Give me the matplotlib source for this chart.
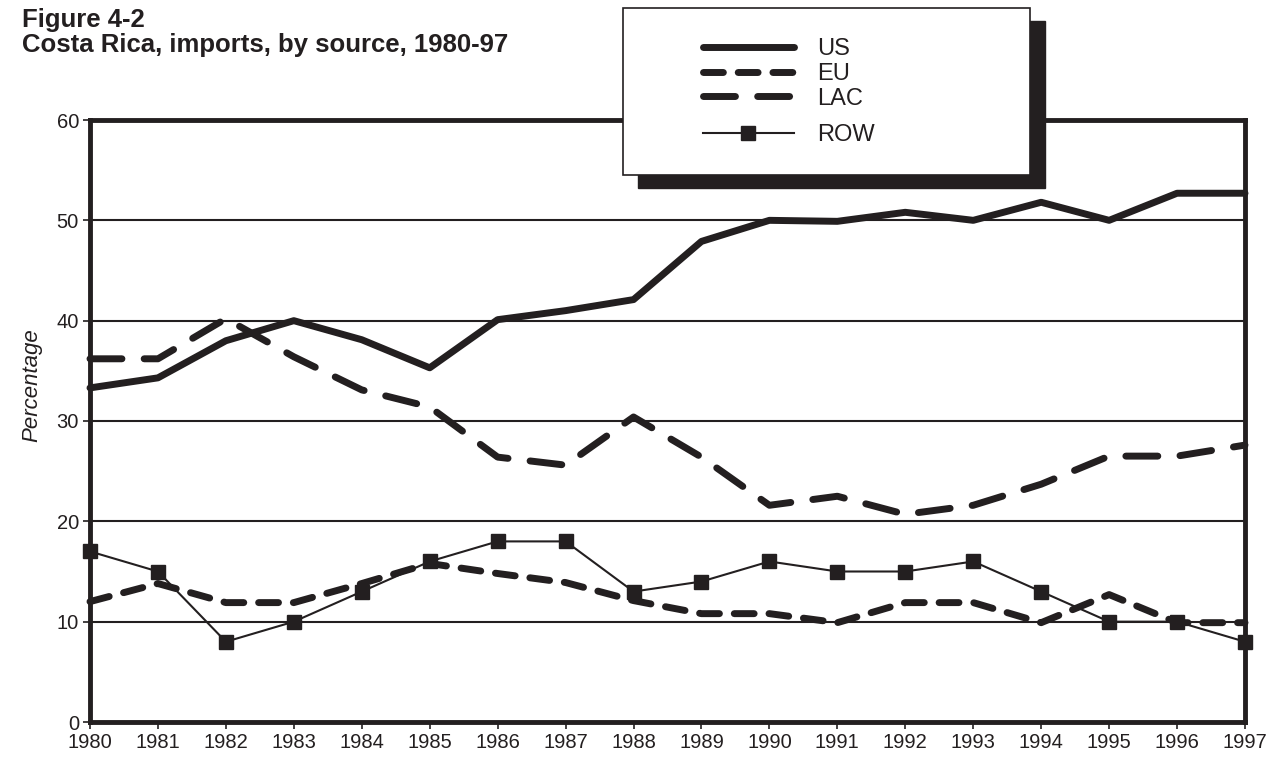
import numpy as np
import matplotlib.pyplot as plt
from matplotlib.patches import Rectangle

plt.rcParams['font.family'] = ['Liberation Sans', 'DejaVu Sans']

years = np.arange(1980, 1998)
US = [33.3, 34.3, 38.0, 40.0, 38.1, 35.3, 40.1, 41.0, 42.1, 47.9, 50.0, 49.9, 50.8, 50.0, 51.8, 50.0, 52.7, 52.7]
EU = [12.0, 13.8, 11.9, 11.9, 13.8, 15.8, 14.8, 13.9, 12.1, 10.8, 10.8, 9.9, 11.9, 11.9, 9.9, 12.7, 9.9, 9.9]
LAC = [36.2, 36.2, 40.2, 36.4, 33.1, 31.4, 26.4, 25.6, 30.4, 26.4, 21.6, 22.5, 20.7, 21.6, 23.7, 26.5, 26.5, 27.6]
ROW = [17, 15, 8, 10, 13, 16, 18, 18, 13, 14, 16, 15, 15, 16, 13, 10, 10, 8]

ink = '#231f20'
W, H = 1286, 761

fig = plt.figure(figsize=(12.86, 7.61), dpi=100)
ax = fig.add_axes([90/W, 1 - 722/H, (1245 - 90)/W, (722 - 120)/H])

ax.grid(axis='y', color=ink, linewidth=1.5)
ax.set_axisbelow(True)

l_us, = ax.plot(years, US, color=ink, linewidth=5, solid_capstyle='round', label='US')
l_eu, = ax.plot(years, EU, color=ink, linewidth=5, dashes=(2.86, 2.14),
                dash_capstyle='round', label='EU')
l_lac, = ax.plot(years, LAC, color=ink, linewidth=5, dashes=(4.6, 3.2),
                 dash_capstyle='round', label='LAC')
l_row, = ax.plot(years, ROW, color=ink, linewidth=1.5, marker='s', markersize=10,
                 label='ROW')
for l in (l_us, l_eu, l_lac, l_row):
    l.set_clip_on(False)

ax.set_xlim(1980, 1997)
ax.set_ylim(0, 60)
ax.set_xticks(years)
ax.set_yticks(np.arange(0, 61, 10))
ax.tick_params(axis='both', colors=ink, labelsize=14.5, width=1.2, length=5, pad=3)
for s in ax.spines.values():
    s.set_linewidth(3.5)
    s.set_color(ink)

fig.text(22/W, 1 - 27/H, 'Figure 4-2', fontsize=18.5, fontweight='bold', color=ink,
         va='baseline', ha='left')
fig.text(22/W, 1 - 52/H, 'Costa Rica, imports, by source, 1980-97', fontsize=18.5,
         fontweight='bold', color=ink, va='baseline', ha='left')
fig.text(32/W, 1 - 385/H, 'Percentage', fontsize=16, style='italic', color=ink,
         rotation=90, va='center', ha='center')

# legend box with solid shadow
bx0, by0, bw, bh = 623/W, 1 - 175/H, (1030 - 623)/W, (175 - 8)/H
fig.add_artist(Rectangle((bx0 + 15/W, by0 - 13/H), bw, bh, transform=fig.transFigure,
                         facecolor=ink, edgecolor=ink, zorder=3))
fig.add_artist(Rectangle((bx0, by0), bw, bh, transform=fig.transFigure,
                         facecolor='white', edgecolor=ink, linewidth=1.2, zorder=4))
leg1 = fig.legend(handles=[l_us, l_eu, l_lac], loc='upper left',
                  bbox_to_anchor=(703/W, 1 - 38/H), frameon=False, fontsize=17,
                  handlelength=3.85, handletextpad=1.0, labelspacing=0.12,
                  borderpad=0, borderaxespad=0)
leg2 = fig.legend(handles=[l_row], loc='upper left',
                  bbox_to_anchor=(703/W, 1 - 124/H), frameon=False, fontsize=17,
                  handlelength=3.85, handletextpad=1.0, borderpad=0, borderaxespad=0)
for lg in (leg1, leg2):
    lg.set_zorder(5)
    for t in lg.get_texts():
        t.set_color(ink)

fig.savefig('out.png', dpi=100)
